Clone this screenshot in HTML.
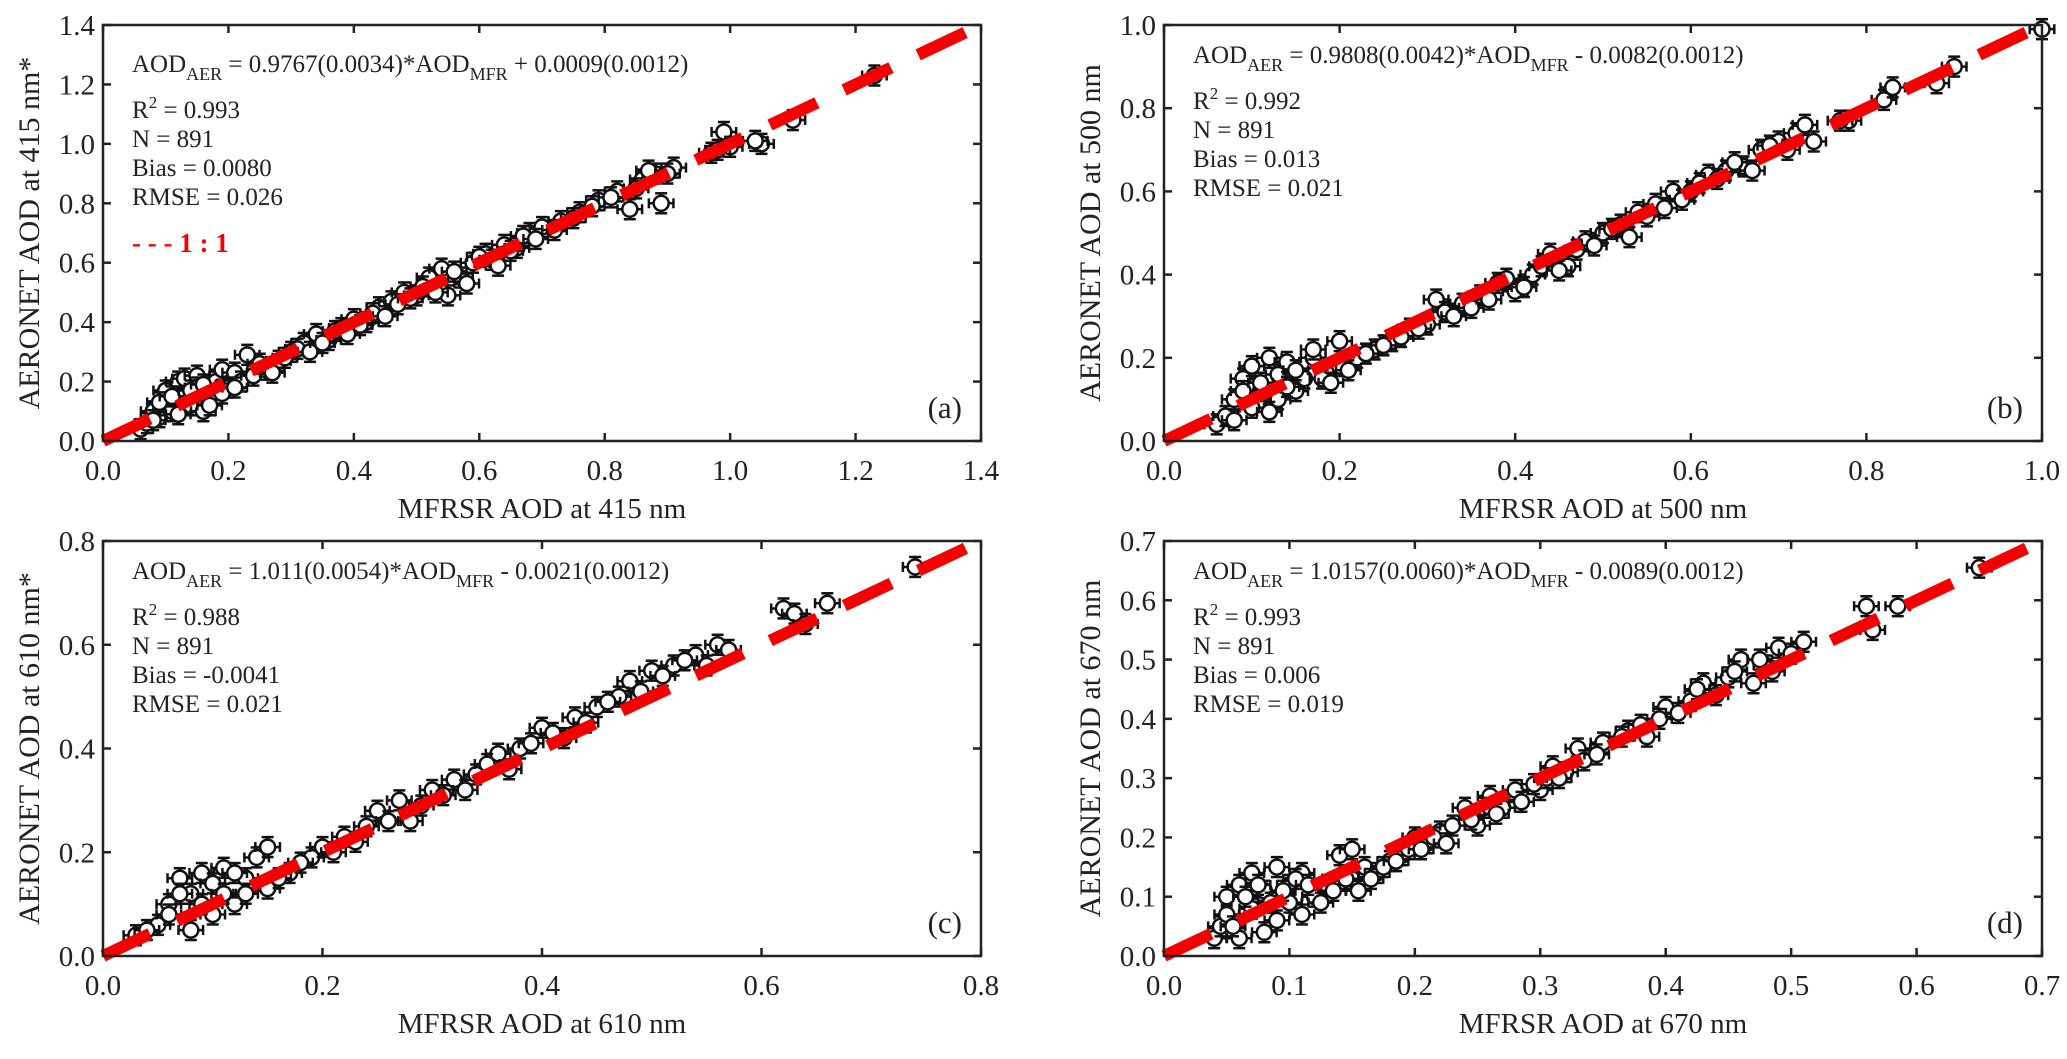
<!DOCTYPE html>
<html><head><meta charset="utf-8"><style>
html,body{margin:0;padding:0;background:#fff}
svg{display:block}
text{font-family:"Liberation Serif","Times New Roman",Times,"Noto Serif CJK SC","DejaVu Serif",serif;fill:#222}
</style></head><body>
<svg id="fig" width="2067" height="1059" viewBox="0 0 2067 1059" xmlns="http://www.w3.org/2000/svg"></svg>
<script>
// Panel (a) data: MFRSR vs AERONET AOD at 415 nm
const aX=[0.06,0.07,0.08,0.09,0.1,0.1,0.11,0.12,0.13,0.13,0.14,0.15,0.15,0.16,0.17,0.18,0.19,0.2,0.21,0.22,0.23,0.24,0.26,0.28,0.3,0.32,0.34,0.36,0.38,0.4,0.42,0.44,0.46,0.48,0.5,0.52,0.54,0.55,0.57,0.59,0.61,0.64,0.66,0.68,0.7,0.73,0.76,0.79,0.82,0.84,0.86,0.88,0.89,0.91,0.97,0.99,1.0,1.05,1.1,1.23,
 0.08,0.09,0.11,0.12,0.14,0.16,0.17,0.19,0.21,0.25,0.27,0.29,0.31,0.33,0.35,0.37,0.39,0.41,0.43,0.45,0.47,0.49,0.51,0.53,0.56,0.58,0.6,0.62,0.63,0.65,0.67,0.69,0.72,0.75,0.78,0.81,0.85,0.87,0.9,0.98,1.04];
const aY=[0.04,0.06,0.1,0.08,0.12,0.17,0.1,0.2,0.15,0.21,0.12,0.22,0.18,0.1,0.15,0.2,0.24,0.18,0.23,0.2,0.29,0.22,0.24,0.27,0.3,0.33,0.36,0.34,0.38,0.41,0.4,0.45,0.47,0.5,0.49,0.55,0.58,0.49,0.55,0.6,0.63,0.66,0.65,0.7,0.72,0.74,0.77,0.81,0.84,0.78,0.88,0.9,0.8,0.92,0.97,1.04,0.99,1.0,1.08,1.23,
 0.07,0.13,0.15,0.09,0.17,0.19,0.12,0.16,0.18,0.26,0.23,0.28,0.31,0.3,0.33,0.37,0.36,0.39,0.43,0.42,0.46,0.48,0.52,0.5,0.57,0.53,0.62,0.61,0.59,0.64,0.69,0.68,0.71,0.75,0.79,0.82,0.85,0.91,0.9,0.98,1.01];
// Panel (b) data: 500 nm
const bX=[0.06,0.07,0.08,0.09,0.1,0.1,0.11,0.12,0.13,0.13,0.14,0.15,0.16,0.17,0.18,0.2,0.2,0.22,0.24,0.26,0.28,0.3,0.31,0.32,0.34,0.36,0.38,0.4,0.42,0.44,0.46,0.48,0.5,0.52,0.54,0.56,0.58,0.6,0.62,0.64,0.66,0.68,0.7,0.72,0.74,0.78,0.82,0.83,0.88,0.9,1.0,
 0.08,0.09,0.11,0.12,0.14,0.15,0.17,0.19,0.21,0.23,0.25,0.27,0.29,0.33,0.35,0.37,0.39,0.41,0.43,0.45,0.47,0.49,0.51,0.53,0.55,0.57,0.59,0.61,0.63,0.65,0.67,0.69,0.71,0.73,0.77];
const bY=[0.04,0.06,0.1,0.15,0.08,0.18,0.12,0.2,0.1,0.16,0.19,0.12,0.15,0.2,0.15,0.24,0.18,0.2,0.22,0.24,0.27,0.28,0.34,0.31,0.33,0.35,0.38,0.36,0.4,0.45,0.42,0.48,0.5,0.52,0.55,0.57,0.6,0.6,0.64,0.65,0.66,0.7,0.72,0.74,0.72,0.77,0.82,0.85,0.86,0.9,0.99,
 0.05,0.12,0.14,0.07,0.13,0.17,0.22,0.14,0.17,0.21,0.23,0.25,0.27,0.3,0.32,0.34,0.39,0.37,0.42,0.41,0.46,0.47,0.51,0.49,0.54,0.56,0.58,0.62,0.63,0.67,0.65,0.71,0.7,0.76,0.77];
// Panel (c) data: 610 nm
const cX=[0.03,0.05,0.06,0.07,0.08,0.08,0.09,0.1,0.1,0.11,0.12,0.13,0.14,0.15,0.15,0.17,0.19,0.2,0.22,0.24,0.25,0.27,0.28,0.3,0.32,0.34,0.36,0.38,0.4,0.42,0.43,0.45,0.47,0.48,0.5,0.52,0.54,0.55,0.56,0.62,0.63,0.64,0.66,0.74,
 0.04,0.06,0.07,0.09,0.11,0.12,0.13,0.16,0.18,0.21,0.23,0.26,0.29,0.31,0.33,0.35,0.37,0.39,0.41,0.44,0.46,0.49,0.51,0.53,0.57];
const cY=[0.04,0.06,0.1,0.15,0.05,0.12,0.16,0.08,0.14,0.17,0.1,0.15,0.19,0.21,0.13,0.16,0.19,0.21,0.23,0.25,0.28,0.3,0.26,0.32,0.34,0.35,0.39,0.4,0.44,0.42,0.46,0.48,0.5,0.53,0.55,0.56,0.58,0.56,0.6,0.67,0.66,0.64,0.68,0.75,
 0.05,0.08,0.12,0.1,0.12,0.16,0.12,0.15,0.18,0.2,0.22,0.26,0.29,0.31,0.32,0.37,0.36,0.41,0.43,0.45,0.49,0.51,0.54,0.57,0.59];
// Panel (d) data: 670 nm
const dX=[0.04,0.045,0.05,0.05,0.06,0.06,0.07,0.07,0.08,0.08,0.09,0.09,0.1,0.1,0.11,0.11,0.12,0.13,0.14,0.15,0.15,0.16,0.17,0.18,0.19,0.2,0.21,0.22,0.23,0.24,0.25,0.26,0.27,0.28,0.3,0.31,0.32,0.33,0.35,0.37,0.38,0.4,0.42,0.43,0.45,0.46,0.47,0.48,0.49,0.51,0.56,0.565,0.585,0.65,
 0.055,0.065,0.075,0.085,0.095,0.105,0.115,0.125,0.135,0.145,0.155,0.165,0.175,0.185,0.195,0.205,0.215,0.225,0.245,0.255,0.265,0.285,0.295,0.305,0.315,0.335,0.345,0.365,0.385,0.395,0.41,0.425,0.44,0.455,0.475,0.485,0.5];
const dY=[0.03,0.05,0.1,0.07,0.12,0.03,0.14,0.08,0.11,0.04,0.15,0.06,0.12,0.09,0.14,0.07,0.1,0.12,0.17,0.18,0.13,0.15,0.14,0.16,0.17,0.2,0.19,0.21,0.22,0.25,0.22,0.27,0.25,0.28,0.28,0.32,0.31,0.35,0.36,0.38,0.39,0.42,0.43,0.46,0.47,0.5,0.46,0.49,0.52,0.53,0.59,0.55,0.59,0.655,
 0.05,0.1,0.12,0.09,0.11,0.13,0.12,0.09,0.11,0.13,0.11,0.13,0.15,0.16,0.18,0.18,0.2,0.19,0.23,0.25,0.24,0.26,0.29,0.3,0.3,0.33,0.34,0.37,0.37,0.4,0.41,0.45,0.44,0.48,0.5,0.48,0.51];
// axis ticks
const ticksA=[0,0.2,0.4,0.6,0.8,1.0,1.2,1.4];
const ticksB=[0,0.2,0.4,0.6,0.8,1.0];
const ticksC=[0,0.2,0.4,0.6,0.8];
const ticksD=[0,0.1,0.2,0.3,0.4,0.5,0.6,0.7];

const NS="http://www.w3.org/2000/svg";
const svg=document.getElementById('fig');
function mk(tag,attrs,parent){const e=document.createElementNS(NS,tag);for(const k in attrs)e.setAttribute(k,attrs[k]);(parent||svg).appendChild(e);return e;}

const panels=[
 {id:'a',L:103,R:981,T:25,B:441,max:1.4,ticks:ticksA,xs:aX,ys:aY,wl:'415',star:'*',eq:['0.9767(0.0034)','+ 0.0009(0.0012)'],r2:'0.993',bias:'0.0080',rmse:'0.026',off:47,legend:true},
 {id:'b',L:1164,R:2042,T:25,B:441,max:1.0,ticks:ticksB,xs:bX,ys:bY,wl:'500',star:'',eq:['0.9808(0.0042)','- 0.0082(0.0012)'],r2:'0.992',bias:'0.013',rmse:'0.021',off:38},
 {id:'c',L:103,R:981,T:541,B:956,max:0.8,ticks:ticksC,xs:cX,ys:cY,wl:'610',star:'*',eq:['1.011(0.0054)','- 0.0021(0.0012)'],r2:'0.988',bias:'-0.0041',rmse:'0.021',off:38},
 {id:'d',L:1164,R:2042,T:541,B:956,max:0.7,ticks:ticksD,xs:dX,ys:dY,wl:'670',star:'',eq:['1.0157(0.0060)','- 0.0089(0.0012)'],r2:'0.993',bias:'0.006',rmse:'0.019',off:38}
];

panels.forEach(p=>{
 const g=mk('g',{});
 
 
 const sx=v=>p.L+(v/p.max)*(p.R-p.L);
 const sy=v=>p.B-(v/p.max)*(p.B-p.T);
 const fmt=v=>v.toFixed(1);
 p.ticks.forEach(t=>{
  const x=sx(t),y=sy(t);
  mk('line',{x1:x,y1:p.B,x2:x,y2:p.B-8,stroke:'#222','stroke-width':2.5},g);
  mk('line',{x1:x,y1:p.T,x2:x,y2:p.T+8,stroke:'#222','stroke-width':2.5},g);
  mk('line',{x1:p.L,y1:y,x2:p.L+8,y2:y,stroke:'#222','stroke-width':2.5},g);
  mk('line',{x1:p.R,y1:y,x2:p.R-8,y2:y,stroke:'#222','stroke-width':2.5},g);
  const xl=mk('text',{x:x,y:p.B+39,'text-anchor':'middle','font-size':29},g);xl.textContent=fmt(t);
  
  
  const yl=mk('text',{x:p.L-8,y:y+10,'text-anchor':'end','font-size':29},g);yl.textContent=fmt(t);
  
  
 });
 const ex=p.max*0.014, ey=p.max*0.024;
 p.xs.forEach((xv,i)=>{
  const yv=p.ys[i];
  const pg=mk('g',{stroke:'#111','stroke-width':2.5},g);
  
  
  const cx=sx(xv),cy=sy(yv),x0=sx(xv-ex),x1=sx(xv+ex),y0=sy(yv-ey),y1=sy(yv+ey);
  mk('line',{x1:x0,y1:cy,x2:x1,y2:cy},pg);
  mk('line',{x1:x0,y1:cy-5,x2:x0,y2:cy+5},pg);
  mk('line',{x1:x1,y1:cy-5,x2:x1,y2:cy+5},pg);
  mk('line',{x1:cx,y1:y0,x2:cx,y2:y1},pg);
  mk('line',{x1:cx-6,y1:y0,x2:cx+6,y2:y0},pg);
  mk('line',{x1:cx-6,y1:y1,x2:cx+6,y2:y1},pg);
  mk('circle',{cx:cx,cy:cy,r:7.5,fill:'#fff'},pg);
 });
 const ln=mk('line',{x1:sx(0),y1:sy(0),x2:sx(p.max),y2:sy(p.max),stroke:'#f40000','stroke-width':12,'stroke-dasharray':'52 30'},g);
 
 
 const fr=mk('rect',{x:p.L,y:p.T,width:p.R-p.L,height:p.B-p.T,fill:'none',stroke:'#222','stroke-width':2.5},g);
 
 
 const tx=p.L+29, ty=p.T+p.off;
 const eq=mk('text',{x:tx,y:ty,'font-size':25},g);
 
 
 eq.innerHTML='AOD<tspan font-size="18" dy="8">AER</tspan><tspan dy="-8"> = '+p.eq[0]+'*AOD</tspan><tspan font-size="18" dy="8">MFR</tspan><tspan dy="-8"> '+p.eq[1]+'</tspan>';
 const lines=[['r2','R<tspan font-size="17" dy="-10">2</tspan><tspan dy="10"> = '+p.r2+'</tspan>'],['n','N = 891'],['bias','Bias = '+p.bias],['rmse','RMSE = '+p.rmse]];
 lines.forEach((l,k)=>{
  const t=mk('text',{x:tx,y:ty+46+k*29,'font-size':25},g);
  
  
  t.innerHTML=l[1];
 });
 if(p.legend){
  const lg=mk('text',{x:tx,y:p.T+227,'font-size':27,'font-weight':'bold',style:'fill:#f40000'},g);
  
  
  lg.textContent='- - - 1 : 1';
 }
 const pl=mk('text',{x:p.R-19,y:p.B-23,'text-anchor':'end','font-size':31},g);
 
 
 pl.textContent='('+p.id+')';
 const xt=mk('text',{x:(p.L+p.R)/2,y:p.B+77,'text-anchor':'middle','font-size':29},g);
 
 
 xt.textContent='MFRSR AOD at '+p.wl+' nm';
 const yc=(p.T+p.B)/2, yx=p.L-64;
 const yt=mk('text',{x:yx,y:yc,'text-anchor':'middle','font-size':30,transform:'rotate(-90 '+yx+' '+yc+')'},g);
 
 
 yt.textContent='AERONET AOD at '+p.wl+' nm'+p.star;
});
</script>
</body></html>
